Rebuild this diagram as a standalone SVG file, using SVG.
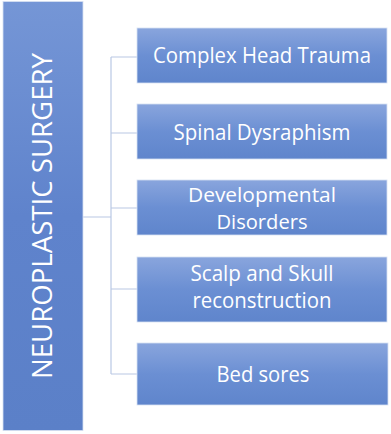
<svg xmlns="http://www.w3.org/2000/svg" width="391" height="434" viewBox="0 0 391 434">
<defs>
<linearGradient id="gBar" x1="0" y1="0" x2="0" y2="1">
<stop offset="0" stop-color="#7596d6"/>
<stop offset="0.5" stop-color="#5f83cc"/>
<stop offset="1" stop-color="#5b80c8"/>
</linearGradient>
<linearGradient id="gBox" x1="0" y1="0" x2="0" y2="1">
<stop offset="0" stop-color="#89a5dd"/>
<stop offset="0.5" stop-color="#6b8fd3"/>
<stop offset="1" stop-color="#5f85cc"/>
</linearGradient>
</defs>
<style>
.box{fill:url(#gBox);stroke:#d6e0f2;stroke-width:0.8}
.bar{fill:url(#gBar);stroke:#d6e0f2;stroke-width:0.8}
.t{font-family:"Open Sans","DejaVu Sans",sans-serif;font-size:21px;fill:#ffffff;text-anchor:middle}
.s{font-size:20px}
.title{font-family:"Open Sans","DejaVu Sans",sans-serif;font-size:28px;fill:#ffffff;text-anchor:middle}
.conn{fill:none;stroke:#b9c8e4;stroke-width:1.2}
</style>
<rect width="391" height="434" fill="#ffffff"/>
<g id="connectors">
<path class="conn" d="M83 217 H111 M111 57 V374 M111 57 H137 M111 133 H137 M111 208 H137 M111 289 H137 M111 374 H137"/>
</g>
<g id="root">
<rect class="bar" x="3" y="1.5" width="80" height="429"/>
<text class="title" transform="translate(52 216) rotate(-90)" textLength="326" lengthAdjust="spacingAndGlyphs">NEUROPLASTIC SURGERY</text>
</g>
<g id="n1">
<rect class="box" x="137" y="28" width="250" height="55"/>
<text class="t" x="262" y="63" textLength="218" lengthAdjust="spacingAndGlyphs">Complex Head Trauma</text>
</g>
<g id="n2">
<rect class="box" x="137" y="104" width="250" height="55"/>
<text class="t" x="262" y="140" textLength="177" lengthAdjust="spacingAndGlyphs">Spinal Dysraphism</text>
</g>
<g id="n3">
<rect class="box" x="137" y="180" width="250" height="55"/>
<text class="t s" x="262" y="202" textLength="148" lengthAdjust="spacingAndGlyphs">Developmental</text>
<text class="t s" x="262" y="229" textLength="91" lengthAdjust="spacingAndGlyphs">Disorders</text>
</g>
<g id="n4">
<rect class="box" x="137" y="257" width="250" height="65"/>
<text class="t" x="262" y="281" textLength="143" lengthAdjust="spacingAndGlyphs">Scalp and Skull</text>
<text class="t" x="262" y="308" textLength="139" lengthAdjust="spacingAndGlyphs">reconstruction</text>
</g>
<g id="n5">
<rect class="box" x="137" y="343" width="251" height="62"/>
<text class="t" x="263" y="382" textLength="93" lengthAdjust="spacingAndGlyphs">Bed sores</text>
</g>
</svg>
